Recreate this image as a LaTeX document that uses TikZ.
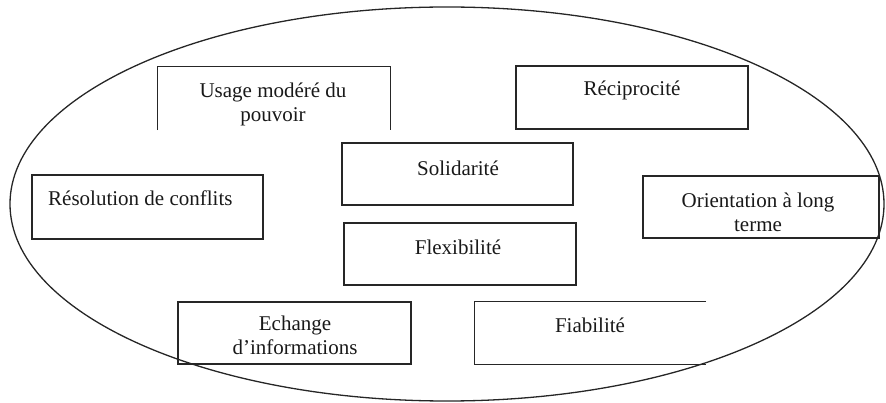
\documentclass[tikz,border=0pt]{standalone}
\usepackage{fontspec}
\setmainfont{Liberation Serif}
\begin{document}
\begin{tikzpicture}[x=1pt,y=-1pt,
  boxline/.style={draw=black!85,line width=1.3pt},
  lbl/.style={font=\fontsize{21}{24}\selectfont,align=center,inner sep=0pt,text=black!90}]
\useasboundingbox (0,0) rectangle (886,403);
\draw[black!85,line width=1.3pt] (447,204) ellipse [x radius=437,y radius=197];
% boxes
\node[boxline,inner sep=0pt,minimum width=231pt,minimum height=62pt] (sol) at (457.5,174) {};
\node[boxline,inner sep=0pt,minimum width=232pt,minimum height=62pt] (flex) at (460,254) {};
\node[boxline,inner sep=0pt,minimum width=231pt,minimum height=64pt] (res) at (147.5,207) {};
\node[boxline,inner sep=0pt,minimum width=236pt,minimum height=62pt] (ori) at (761,207) {};
\node[boxline,inner sep=0pt,minimum width=232pt,minimum height=63pt] (rec) at (632,97.5) {};
\node[boxline,inner sep=0pt,minimum width=233pt,minimum height=62pt] (ech) at (294.5,333) {};
\node[inner sep=0pt,minimum width=232pt,minimum height=63pt] (usa) at (274,98.5) {};
\draw[boxline] (usa.south west) -- (usa.north west) -- (usa.north east) -- (usa.south east);
\node[inner sep=0pt,minimum width=231pt,minimum height=62pt] (fia) at (590.5,333) {};
\draw[boxline] (fia.north east) -- (fia.north west) -- (fia.south west) -- (fia.south east);
% texts
\node[lbl] (tusa) at (273,104) {Usage modéré du\\pouvoir};
\node[lbl] (trec) at (632,90) {Réciprocité};
\node[lbl,anchor=west] (tres) at (48,198) {Résolution de conflits};
\node[lbl] (tori) at (758,212) {Orientation à long\\terme};
\node[lbl] (tsol) at (458,168) {Solidarité};
\node[lbl] (tflex) at (458,247) {Flexibilité};
\node[lbl] (tech) at (295,335) {Echange\\d'informations};
\node[lbl] (tfia) at (590,325) {Fiabilité};
\end{tikzpicture}
\end{document}
